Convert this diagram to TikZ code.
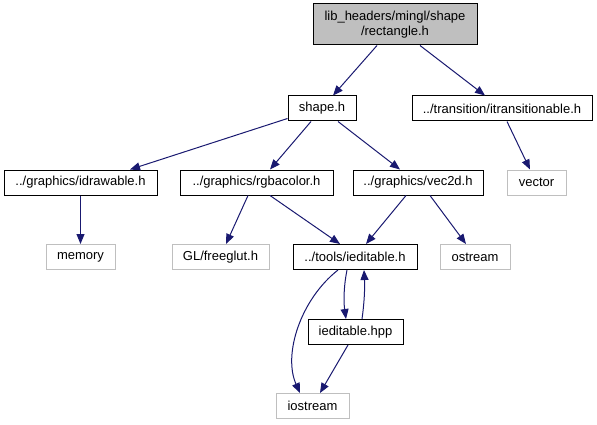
\documentclass[tikz,border=0pt]{standalone}
\usepackage{fontspec}
\setmainfont{Liberation Sans}
\usetikzlibrary{arrows.meta}
\definecolor{edgeblue}{HTML}{191970}
\definecolor{lightgr}{HTML}{BFBFBF}
\tikzset{
  box/.style={draw=black, line width=1pt, minimum height=25pt, inner sep=0pt, font=\fontsize{13}{15}\selectfont, text=black},
  extbox/.style={box, draw=lightgr},
  dep/.style={draw=edgeblue, line width=1pt, -{Triangle[length=10pt,width=8pt]}, edgeblue},
}
\begin{document}
\begin{tikzpicture}[x=1pt,y=-1pt]
\useasboundingbox (0,0) rectangle (597,425);
\node[box, fill=lightgr, minimum width=164pt, minimum height=41pt, align=center] (top) at (395,24.5) {lib\_headers/mingl/shape\\/rectangle.h};
\node[box, minimum width=68pt] (shape) at (322,108.5) {shape.h};
\node[box, minimum width=180pt] (itrans) at (502,108.5) {../transition/itransitionable.h};
\node[box, minimum width=153pt] (idraw) at (80.5,182.5) {../graphics/idrawable.h};
\node[box, minimum width=153pt] (rgba) at (256.5,182.5) {../graphics/rgbacolor.h};
\node[box, minimum width=130pt] (vec) at (418,182.5) {../graphics/vec2d.h};
\node[extbox, minimum width=59pt] (vector) at (536.5,182.5) {vector};
\node[extbox, minimum width=69pt] (memory) at (80.5,257) {memory};
\node[extbox, minimum width=97pt] (glut) at (220.5,257) {GL/freeglut.h};
\node[box, minimum width=124pt] (iedit) at (355,257) {../tools/ieditable.h};
\node[extbox, minimum width=70pt] (ostream) at (475,257) {ostream};
\node[box, minimum width=95pt] (hpp) at (355.5,332) {ieditable.hpp};
\node[extbox, minimum width=73pt] (iostream) at (312.5,406) {iostream};

\draw[dep] ([xshift=-18pt]top.south) -- ([xshift=11pt]shape.north);
\draw[dep] ([xshift=25pt]top.south) -- ([xshift=-17pt]itrans.north);
\draw[dep] ([yshift=3pt]shape.south west) -- ([xshift=49.5pt]idraw.north);
\draw[dep] ([xshift=-11pt]shape.south) -- ([xshift=13.5pt]rgba.north);
\draw[dep] ([xshift=16pt]shape.south) -- ([xshift=-18pt]vec.north);
\draw[dep] ([xshift=5pt]itrans.south) -- ([xshift=-6.5pt]vector.north);
\draw[dep] (idraw.south) -- (memory.north);
\draw[dep] ([xshift=-8.5pt]rgba.south) -- ([xshift=5.5pt]glut.north);
\draw[dep] ([xshift=13.5pt]rgba.south) -- ([xshift=-15pt]iedit.north);
\draw[dep] ([xshift=-12pt]vec.south) -- ([xshift=11pt]iedit.north);
\draw[dep] ([xshift=12pt]vec.south) -- ([xshift=-9pt]ostream.north);
\draw[dep] ([xshift=-17pt]iedit.south) .. controls (300,300) and (283,355) .. ([xshift=-12.5pt]iostream.north);
\draw[dep] ([xshift=-8pt]iedit.south) .. controls (343,290) and (344,305) .. ([xshift=-9.5pt]hpp.north);
\draw[dep] ([xshift=6.5pt]hpp.north) .. controls (364,305) and (365,290) .. ([xshift=9pt]iedit.south);
\draw[dep] ([xshift=-7.5pt]hpp.south) -- ([xshift=7.5pt]iostream.north);
\end{tikzpicture}
\end{document}
